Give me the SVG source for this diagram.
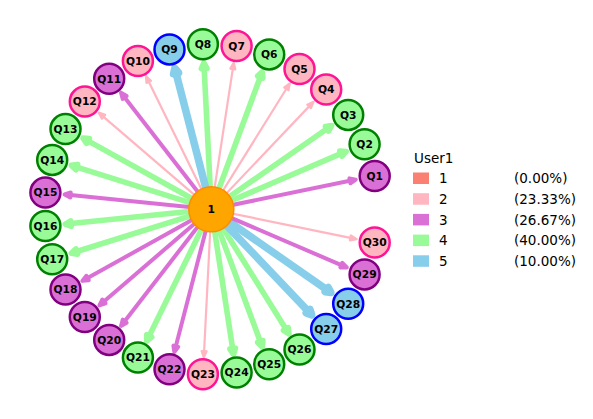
<svg xmlns="http://www.w3.org/2000/svg" xmlns:xlink="http://www.w3.org/1999/xlink" width="593" height="419" viewBox="0 0 593 419">
<style>
.e2 line{stroke:#FFB6C1;stroke-width:2.2}
.e3 line{stroke:#DA70D6;stroke-width:4}
.e4 line{stroke:#98FB98;stroke-width:5.6}
.e5 line{stroke:#87CEEB;stroke-width:7.5}
.e2 use{fill:#FFB6C1;stroke:#FFB6C1;stroke-width:2.2}
.e3 use{fill:#DA70D6;stroke:#DA70D6;stroke-width:4}
.e4 use{fill:#98FB98;stroke:#98FB98;stroke-width:5.6}
.e5 use{fill:#87CEEB;stroke:#87CEEB;stroke-width:7.5}
use{stroke-linejoin:round}
.n circle{stroke-width:2.5}
.n2 circle{fill:#FFB6C1;stroke:#FF1493}
.n3 circle{fill:#DA70D6;stroke:#800080}
.n4 circle{fill:#98FB98;stroke:#008000}
.n5 circle{fill:#87CEEB;stroke:#0000FF}
.n text,.c text{font-family:"DejaVu Sans",sans-serif;font-weight:bold;font-size:10.7px;text-anchor:middle;fill:#000}
.lg text{font-family:"DejaVu Sans",sans-serif;font-size:13.5px;fill:#000}
</style>
<defs>
<polygon id="h2" points="-1.1,0 -7.5,-2.5 -7.5,2.5"/>
<polygon id="h3" points="-2,0 -8,-2.5 -8,2.5"/>
<polygon id="h4" points="-2.8,0 -8.5,-2.8 -8.5,2.8"/>
<polygon id="h5" points="-3.75,0 -9,-2.6 -9,2.6"/>
</defs>
<rect width="593" height="419" fill="#fff"/>
<g id="edges" transform="translate(211.3 209.3)">
<g class="e3" transform="rotate(-11.613)"><line x2="141.5"/><use xlink:href="#h3" href="#h3" x="149.5"/></g>
<g class="e4" transform="rotate(-23.226)"><line x2="141"/><use xlink:href="#h4" href="#h4" x="149.5"/></g>
<g class="e4" transform="rotate(-34.839)"><line x2="141"/><use xlink:href="#h4" href="#h4" x="149.5"/></g>
<g class="e2" transform="rotate(-46.452)"><line x2="142"/><use xlink:href="#h2" href="#h2" x="149.5"/></g>
<g class="e2" transform="rotate(-58.065)"><line x2="142"/><use xlink:href="#h2" href="#h2" x="149.5"/></g>
<g class="e4" transform="rotate(-69.677)"><line x2="141"/><use xlink:href="#h4" href="#h4" x="149.5"/></g>
<g class="e2" transform="rotate(-81.290)"><line x2="142"/><use xlink:href="#h2" href="#h2" x="149.5"/></g>
<g class="e4" transform="rotate(-92.903)"><line x2="141"/><use xlink:href="#h4" href="#h4" x="149.5"/></g>
<g class="e5" transform="rotate(-104.516)"><line x2="140.5"/><use xlink:href="#h5" href="#h5" x="149.5"/></g>
<g class="e2" transform="rotate(-116.129)"><line x2="142"/><use xlink:href="#h2" href="#h2" x="149.5"/></g>
<g class="e3" transform="rotate(-127.742)"><line x2="141.5"/><use xlink:href="#h3" href="#h3" x="149.5"/></g>
<g class="e2" transform="rotate(-139.355)"><line x2="142"/><use xlink:href="#h2" href="#h2" x="149.5"/></g>
<g class="e4" transform="rotate(-150.968)"><line x2="141"/><use xlink:href="#h4" href="#h4" x="149.5"/></g>
<g class="e4" transform="rotate(-162.581)"><line x2="141"/><use xlink:href="#h4" href="#h4" x="149.5"/></g>
<g class="e3" transform="rotate(-174.194)"><line x2="141.5"/><use xlink:href="#h3" href="#h3" x="149.5"/></g>
<g class="e4" transform="rotate(-185.806)"><line x2="141"/><use xlink:href="#h4" href="#h4" x="149.5"/></g>
<g class="e4" transform="rotate(-197.419)"><line x2="141"/><use xlink:href="#h4" href="#h4" x="149.5"/></g>
<g class="e3" transform="rotate(-209.032)"><line x2="141.5"/><use xlink:href="#h3" href="#h3" x="149.5"/></g>
<g class="e3" transform="rotate(-220.645)"><line x2="141.5"/><use xlink:href="#h3" href="#h3" x="149.5"/></g>
<g class="e3" transform="rotate(-232.258)"><line x2="141.5"/><use xlink:href="#h3" href="#h3" x="149.5"/></g>
<g class="e4" transform="rotate(-243.871)"><line x2="141"/><use xlink:href="#h4" href="#h4" x="149.5"/></g>
<g class="e3" transform="rotate(-255.484)"><line x2="141.5"/><use xlink:href="#h3" href="#h3" x="149.5"/></g>
<g class="e2" transform="rotate(-267.097)"><line x2="142"/><use xlink:href="#h2" href="#h2" x="149.5"/></g>
<g class="e4" transform="rotate(-278.710)"><line x2="141"/><use xlink:href="#h4" href="#h4" x="149.5"/></g>
<g class="e4" transform="rotate(-290.323)"><line x2="141"/><use xlink:href="#h4" href="#h4" x="149.5"/></g>
<g class="e4" transform="rotate(-301.935)"><line x2="141"/><use xlink:href="#h4" href="#h4" x="149.5"/></g>
<g class="e5" transform="rotate(-313.548)"><line x2="140.5"/><use xlink:href="#h5" href="#h5" x="149.5"/></g>
<g class="e5" transform="rotate(-325.161)"><line x2="140.5"/><use xlink:href="#h5" href="#h5" x="149.5"/></g>
<g class="e3" transform="rotate(-336.774)"><line x2="141.5"/><use xlink:href="#h3" href="#h3" x="149.5"/></g>
<g class="e2" transform="rotate(-348.387)"><line x2="142"/><use xlink:href="#h2" href="#h2" x="149.5"/></g>
</g>
<g id="node-1" class="c"><circle cx="211.3" cy="209.3" r="22.5" fill="#FFA500" stroke="#FF8C00" stroke-width="1.5"/><text x="211.3" y="213.1">1</text></g>
<g id="node-Q1" class="n n3"><circle cx="374.7" cy="176.1" r="15"/><text x="374.7" y="179.9">Q1</text></g>
<g id="node-Q2" class="n n4"><circle cx="364.6" cy="144.2" r="15"/><text x="364.6" y="148">Q2</text></g>
<g id="node-Q3" class="n n4"><circle cx="348.2" cy="114.9" r="15"/><text x="348.2" y="118.7">Q3</text></g>
<g id="node-Q4" class="n n2"><circle cx="326.2" cy="89.6" r="15"/><text x="326.2" y="93.4">Q4</text></g>
<g id="node-Q5" class="n n2"><circle cx="299.5" cy="69.1" r="15"/><text x="299.5" y="72.9">Q5</text></g>
<g id="node-Q6" class="n n4"><circle cx="269.2" cy="54.4" r="15"/><text x="269.2" y="58.2">Q6</text></g>
<g id="node-Q7" class="n n2"><circle cx="236.6" cy="46" r="15"/><text x="236.6" y="49.8">Q7</text></g>
<g id="node-Q8" class="n n4"><circle cx="202.9" cy="44.3" r="15"/><text x="202.9" y="48.1">Q8</text></g>
<g id="node-Q9" class="n n5"><circle cx="169.5" cy="49.4" r="15"/><text x="169.5" y="53.2">Q9</text></g>
<g id="node-Q10" class="n n2"><circle cx="137.9" cy="61" r="15"/><text x="137.9" y="64.8">Q10</text></g>
<g id="node-Q11" class="n n3"><circle cx="109.2" cy="78.7" r="15"/><text x="109.2" y="82.5">Q11</text></g>
<g id="node-Q12" class="n n2"><circle cx="84.8" cy="101.6" r="15"/><text x="84.8" y="105.4">Q12</text></g>
<g id="node-Q13" class="n n4"><circle cx="65.5" cy="129.1" r="15"/><text x="65.5" y="132.9">Q13</text></g>
<g id="node-Q14" class="n n4"><circle cx="52.2" cy="159.9" r="15"/><text x="52.2" y="163.7">Q14</text></g>
<g id="node-Q15" class="n n3"><circle cx="45.4" cy="192.6" r="15"/><text x="45.4" y="196.4">Q15</text></g>
<g id="node-Q16" class="n n4"><circle cx="45.4" cy="226" r="15"/><text x="45.4" y="229.8">Q16</text></g>
<g id="node-Q17" class="n n4"><circle cx="52.2" cy="259.2" r="15"/><text x="52.2" y="263">Q17</text></g>
<g id="node-Q18" class="n n3"><circle cx="65.5" cy="289.5" r="15"/><text x="65.5" y="293.3">Q18</text></g>
<g id="node-Q19" class="n n3"><circle cx="84.8" cy="317" r="15"/><text x="84.8" y="320.8">Q19</text></g>
<g id="node-Q20" class="n n3"><circle cx="109.2" cy="339.9" r="15"/><text x="109.2" y="343.7">Q20</text></g>
<g id="node-Q21" class="n n4"><circle cx="137.9" cy="357.6" r="15"/><text x="137.9" y="361.4">Q21</text></g>
<g id="node-Q22" class="n n3"><circle cx="169.5" cy="369.2" r="15"/><text x="169.5" y="373">Q22</text></g>
<g id="node-Q23" class="n n2"><circle cx="202.9" cy="374.3" r="15"/><text x="202.9" y="378.1">Q23</text></g>
<g id="node-Q24" class="n n4"><circle cx="236.6" cy="372.6" r="15"/><text x="236.6" y="376.4">Q24</text></g>
<g id="node-Q25" class="n n4"><circle cx="269.2" cy="364.2" r="15"/><text x="269.2" y="368">Q25</text></g>
<g id="node-Q26" class="n n4"><circle cx="299.5" cy="349.5" r="15"/><text x="299.5" y="353.3">Q26</text></g>
<g id="node-Q27" class="n n5"><circle cx="326.2" cy="329" r="15"/><text x="326.2" y="332.8">Q27</text></g>
<g id="node-Q28" class="n n5"><circle cx="348.2" cy="303.7" r="15"/><text x="348.2" y="307.5">Q28</text></g>
<g id="node-Q29" class="n n3"><circle cx="364.6" cy="274.4" r="15"/><text x="364.6" y="278.2">Q29</text></g>
<g id="node-Q30" class="n n2"><circle cx="374.7" cy="242.5" r="15"/><text x="374.7" y="246.3">Q30</text></g>
<g id="legend" class="lg">
<text x="414" y="163">User1</text>
<rect x="413" y="172.5" width="16" height="11.5" fill="#FA8072"/>
<rect x="413" y="193.2" width="16" height="11.5" fill="#FFB6C1"/>
<rect x="413" y="213.9" width="16" height="11.5" fill="#DA70D6"/>
<rect x="413" y="234.6" width="16" height="11.5" fill="#98FB98"/>
<rect x="413" y="255.3" width="16" height="11.5" fill="#87CEEB"/>
<text x="439" y="183.3">1</text><text x="514" y="183.3">(0.00%)</text>
<text x="439" y="204">2</text><text x="514" y="204">(23.33%)</text>
<text x="439" y="224.7">3</text><text x="514" y="224.7">(26.67%)</text>
<text x="439" y="245.4">4</text><text x="514" y="245.4">(40.00%)</text>
<text x="439" y="266.1">5</text><text x="514" y="266.1">(10.00%)</text>
</g>
</svg>
